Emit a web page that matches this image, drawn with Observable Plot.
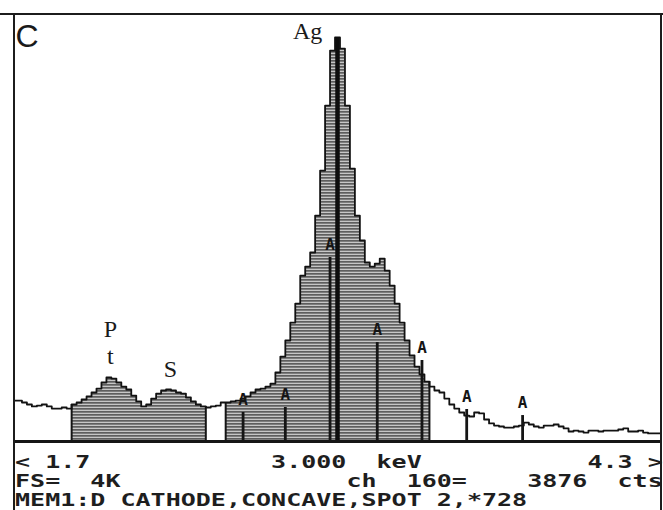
<!DOCTYPE html>
<html>
<head>
<meta charset="utf-8">
<script src="https://cdn.jsdelivr.net/npm/d3@7"></script>
<script src="https://cdn.jsdelivr.net/npm/@observablehq/plot@0.6"></script>
<style>
  html, body { margin: 0; padding: 0; background: #fff; }
  #screen { position: relative; width: 663px; height: 510px; overflow: hidden; background: #fff; }
  #screen svg { position: absolute; left: 0; top: 0; }
  .top-line { position: absolute; left: 0; top: 13px; width: 663px; height: 2px; background: #1c1c1c; }
  .side-lines { position: absolute; left: 13px; top: 13px; width: 649px; height: 497px;
                border-left: 2px solid #1c1c1c; border-right: 2px solid #1c1c1c; box-sizing: border-box; }
  .status { position: absolute; left: 15px; top: 452px; font-family: "DejaVu Sans Mono", monospace;
            font-size: 18px; line-height: 19px; color: #1e1e1e; white-space: pre; font-weight: bold;
            transform: scaleX(1.39); transform-origin: 0 0; }
</style>
</head>
<body>
<div id="screen"></div>
<script>
// EDS spectrum window, 1.7 – 4.3 keV, 20 eV channels
const channelStart = 1.70;   // keV, centre of first channel
const channelWidth = 0.02;   // keV per channel
const counts = [
  393,
  393, 374, 355, 336, 345, 355, 336, 316, 316, 326,
  316, 355, 374, 403, 432, 470, 508, 566, 614, 604,
  566, 527, 499, 441, 384, 336, 355, 412, 460, 489,
  499, 489, 470, 460, 422, 384, 355, 336, 326, 336,
  345, 374, 374, 384, 393, 412, 432, 470, 499, 508,
  527, 556, 662, 815, 969, 1141, 1323, 1592, 1678, 1813,
  2167, 2599, 3222, 3750, 3876, 3769, 3222, 2618, 2167, 1928,
  1717, 1678, 1707, 1755, 1640, 1496, 1323, 1141, 969, 825,
  719, 643, 575, 527, 489, 470, 412, 355, 316, 278,
  249, 240, 278, 269, 211, 173, 153, 144, 134, 134,
  144, 153, 182, 163, 144, 134, 153, 153, 163, 144,
  125, 96, 105, 96, 86, 105, 105, 96, 105, 105,
  105, 115, 125, 96, 96, 105, 86, 77, 77, 77
];

// Regions of interest (shaded)
const roiStart = [1.93, 2.55];
const roiEnd   = [2.47, 3.37];

// Cursor readout
const cursorKeV = 3.000;
const cursorChannel = 160;
const cursorCounts = 3876;
const fullScale = 4096;       // FS = 4K
const rangeLow = 1.7, rangeHigh = 4.3;

// Element line markers (Ag L family)
const markerKeV    = [2.62, 2.79, 2.97, 3.16, 3.34, 3.52, 3.745];
const markerHeight = [278, 326, 1765, 949, 777, 307, 249];

// Peak labels
const peakText   = ["Ag", "P", "t", "S"];
const peakKeV    = [2.88, 2.086, 2.086, 2.328];
const peakCounts = [3930, 1080, 815, 690];

const memo = "MEM1:D CATHODE,CONCAVE,SPOT 2,*728";

const bins = counts.map((c, k) => ({keV: channelStart + k * channelWidth, counts: c}));
const half = channelWidth / 2;
const roiBins = bins.filter(d => roiStart.some((s, r) => d.keV > s && d.keV < roiEnd[r]));
const roiEdges = roiStart.flatMap((s, r) => {
  const inside = bins.filter(d => d.keV > s && d.keV < roiEnd[r]);
  return [
    {keV: s, counts: inside[0].counts},
    {keV: roiEnd[r], counts: inside[inside.length - 1].counts}
  ];
});
const markers = markerKeV.map((e, i) => ({keV: e, top: markerHeight[i]}));
const peaks = peakText.map((t, i) => ({text: t, keV: peakKeV[i], counts: peakCounts[i]}));

const svg = Plot.plot({
  width: 663,
  height: 448,
  marginTop: 14,
  marginLeft: 14,
  marginRight: 3,
  marginBottom: 7,
  x: {domain: [rangeLow, rangeHigh], axis: null},
  y: {domain: [0, fullScale], axis: null},
  style: {background: "transparent"},
  marks: [
    // shaded regions of interest
    Plot.rect(roiBins, {
      x1: d => d.keV - half, x2: d => d.keV + half,
      y1: 0, y2: "counts",
      fill: "url(#scan)", shapeRendering: "crispEdges"
    }),
    Plot.ruleX(roiEdges, {x: "keV", y1: 0, y2: "counts", stroke: "#151515", strokeWidth: 2}),
    // spectrum trace
    Plot.lineY(bins, {x: "keV", y: "counts", curve: "step", stroke: "#121212", strokeWidth: 1.8}),
    // line markers
    Plot.ruleX(markers, {x: "keV", y1: 0, y2: "top", stroke: "#151515", strokeWidth: 2.8}),
    Plot.text(markers, {
      x: "keV", y: "top", text: () => "A", dy: -13,
      fontFamily: "DejaVu Sans Mono", fontWeight: "bold", fontSize: 16, fill: "#151515"
    }),
    // cursor
    Plot.ruleX([{keV: cursorKeV, counts: cursorCounts}], {
      x: "keV", y1: 0, y2: "counts", stroke: "#0d0d0d", strokeWidth: 4.5
    }),
    // baseline
    Plot.ruleY([0], {stroke: "#151515", strokeWidth: 3}),
    // peak labels
    Plot.text(peaks, {
      x: "keV", y: "counts", text: "text",
      fontFamily: "Liberation Serif", fontSize: 24, fill: "#1a1a1a"
    }),
    // panel letter
    Plot.text(["C"], {
      frameAnchor: "top-left", text: d => d, dx: 1, dy: 10, lineAnchor: "top",
      textAnchor: "start", fontFamily: "Liberation Sans", fontSize: 32, fill: "#1a1a1a"
    })
  ]
});

// horizontal scan-line fill used by the regions of interest
const defs = d3.select(svg).insert("defs", ":first-child");
const pattern = defs.append("pattern")
  .attr("id", "scan")
  .attr("patternUnits", "userSpaceOnUse")
  .attr("width", 8).attr("height", 3);
pattern.append("rect").attr("width", 8).attr("height", 3).attr("fill", "#c6c6c6");
pattern.append("rect").attr("width", 8).attr("height", 1.7).attr("fill", "#5e5e5e");

const screen = document.getElementById("screen");
screen.appendChild(svg);

const topLine = document.createElement("div");
topLine.className = "top-line";
screen.appendChild(topLine);
const sides = document.createElement("div");
sides.className = "side-lines";
screen.appendChild(sides);

// status lines under the spectrum
const row1 = ("< " + rangeLow.toFixed(1)).padEnd(17)
  + (cursorKeV.toFixed(3) + "  keV").padEnd(21)
  + rangeHigh.toFixed(1) + " >";
const row2 = ("FS=  " + (fullScale / 1024) + "K").padEnd(22)
  + ("ch  " + cursorChannel + "=").padEnd(12)
  + String(cursorCounts).padEnd(6)
  + "cts";
const status = document.createElement("div");
status.className = "status";
status.textContent = [row1, row2, memo].join("\n");
screen.appendChild(status);
</script>
</body>
</html>
